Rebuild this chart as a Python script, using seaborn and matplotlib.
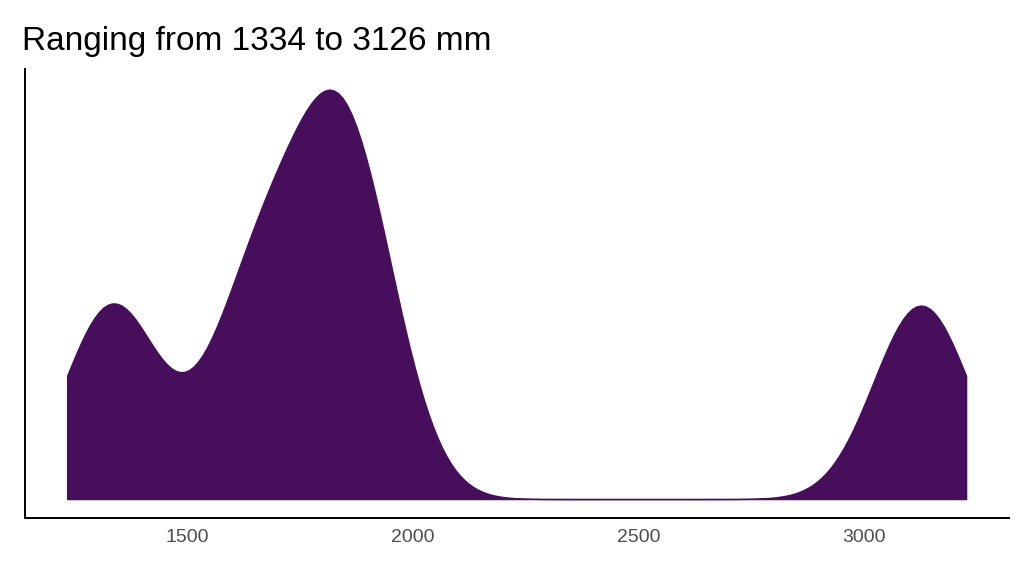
import matplotlib
matplotlib.use("Agg")
import matplotlib.pyplot as plt
import seaborn as sns
import numpy as np

# wingspan measurements (mm)
values = [1334, 1650, 1810, 1880, 3126]
ticks = [1500, 2000, 2500, 3000]

sns.set_style("white")
plt.rcParams['font.family'] = ['Liberation Sans', 'DejaVu Sans']

fig, ax = plt.subplots(figsize=(10.24, 5.76), dpi=100)
data = np.array(values)
bw = 105 / data.std(ddof=1)
sns.kdeplot(x=data, bw_method=bw, cut=0.95, fill=True, color="#470E5C",
            alpha=1, linewidth=1, ax=ax)

ax.set_title("Ranging from 1334 to 3126 mm", loc="left", fontsize=24, pad=14,
             x=-0.003, color="black")
ax.set_xticks(ticks)
ax.tick_params(axis="x", labelsize=14, colors="#4d4d4d", length=4)
ax.set_yticks([])
ax.set_xlabel("")
ax.set_ylabel("")
for s in ["top", "right"]:
    ax.spines[s].set_visible(False)
for s in ["left", "bottom"]:
    ax.spines[s].set_color("black")
    ax.spines[s].set_linewidth(1.4)
ax.set_xlim(1140, 3320)
ymax = ax.get_ylim()[1]
ax.set_ylim(-ymax * 0.045, ymax)
plt.subplots_adjust(left=0.024, right=0.985, top=0.88, bottom=0.1)
fig.savefig("out.png")
